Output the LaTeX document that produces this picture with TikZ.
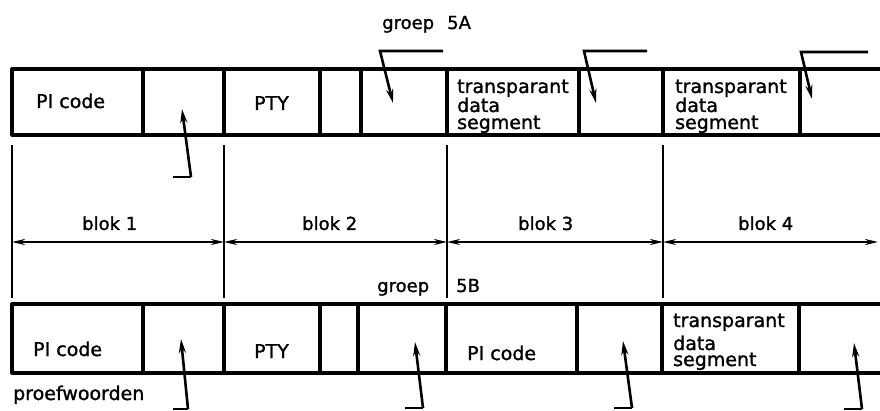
\documentclass[tikz,border=0pt]{standalone}
\usepackage{fontspec}
\setmainfont{DejaVu Sans}[FakeBold=1.3]
\usetikzlibrary{arrows.meta}
\begin{document}
\begin{tikzpicture}[x=1pt,y=-1pt,
  box/.style={line width=3.2pt,line cap=round,line join=round},
  ext/.style={line width=2.2pt},
  dim/.style={line width=2pt,{Stealth[length=13pt,width=6pt]}-{Stealth[length=13pt,width=6pt]}},
  ptr/.style={line width=2.6pt,-{Stealth[length=14pt,width=7pt]},line join=miter},
  foot/.style={line width=2.6pt},
  txt/.style={inner sep=0pt,anchor=base west,font=\fontsize{19}{19}\selectfont},
  lbl/.style={inner sep=0pt,anchor=base west,font=\fontsize{18}{18}\selectfont}]
\useasboundingbox (0,0) rectangle (880,411);

% ---------- top row ----------
\draw[box] (880,69) -- (12,69) -- (12,135) -- (880,135);
\foreach \x in {143,224,320,361,447,579,663,800}
  \draw[box] (\x,69) -- (\x,135);

% ---------- bottom row ----------
\draw[box] (880,304) -- (12,304) -- (12,373) -- (880,373);
\foreach \x in {143,224,320,358,446,577,662,799}
  \draw[box] (\x,304) -- (\x,373);

% ---------- extension lines ----------
\foreach \x in {12,224,447,663}
  \draw[ext] (\x,145) -- (\x,298);

% ---------- dimension lines ----------
\coordinate (d0) at (12,242);
\coordinate (d1) at (224,242);
\coordinate (d2) at (447,242);
\coordinate (d3) at (663,242);
\coordinate (d4) at (878,242);
\draw[dim] (d0) -- (d1);
\draw[dim] (d1) -- (d2);
\draw[dim] (d2) -- (d3);
\draw[dim] (d3) -- (d4);

\node[lbl] (b1) at (82,230) {blok 1};
\node[lbl] (b2) at (302,230) {blok 2};
\node[lbl] (b3) at (518,230) {blok 3};
\node[lbl] (b4) at (738,230) {blok 4};

% ---------- group labels ----------
\node[lbl] (g5a) at (382,29) {groep};
\node[lbl] (n5a) at (447,29) {5A};
\node[lbl] (g5b) at (377,292) {groep};
\node[lbl] (n5b) at (456,292) {5B};

% ---------- top row texts ----------
\node[txt] (t1) at (36,108) {PI code};
\node[txt] (t2) at (254,110) {PTY};
\node[txt] (t3a) at (457,93) {transparant};
\node[txt] (t3b) at (457,112) {data};
\node[txt] (t3c) at (457,129) {segment};
\node[txt] (t4a) at (675,93) {transparant};
\node[txt] (t4b) at (675,112) {data};
\node[txt] (t4c) at (675,129) {segment};

% ---------- bottom row texts ----------
\node[txt] (u1) at (33,356) {PI code};
\node[txt] (u2) at (254,358) {PTY};
\node[txt] (u3) at (467,360) {PI code};
\node[txt] (u4a) at (673,327) {transparant};
\node[txt] (u4b) at (673,350) {data};
\node[txt] (u4c) at (673,366) {segment};
\node[txt] (pw) at (13,400) {proefwoorden};

% ---------- pointers top row ----------
\coordinate (p1f) at (173,177);
\coordinate (p1b) at (191,177);
\coordinate (p1t) at (182,109);
\draw[foot] (p1f) -- (p1b);
\draw[ptr] (p1b) -- (p1t);

\coordinate (p2e) at (443,51);
\coordinate (p2k) at (380,51);
\coordinate (p2t) at (393,103);
\draw[ptr] (p2e) -- (p2k) -- (p2t);

\coordinate (p3e) at (647,51);
\coordinate (p3k) at (584,51);
\coordinate (p3t) at (596,103);
\draw[ptr] (p3e) -- (p3k) -- (p3t);

\coordinate (p4e) at (868,52);
\coordinate (p4k) at (801,52);
\coordinate (p4t) at (812,99);
\draw[ptr] (p4e) -- (p4k) -- (p4t);

% ---------- pointers bottom row ----------
\coordinate (q1f) at (173,409);
\coordinate (q1b) at (188,409);
\coordinate (q1t) at (181,339);
\draw[foot] (q1f) -- (q1b);
\draw[ptr] (q1b) -- (q1t);

\coordinate (q2f) at (405,408);
\coordinate (q2b) at (423,408);
\coordinate (q2t) at (415,342);
\draw[foot] (q2f) -- (q2b);
\draw[ptr] (q2b) -- (q2t);

\coordinate (q3f) at (614,408);
\coordinate (q3b) at (632,408);
\coordinate (q3t) at (623,341);
\draw[foot] (q3f) -- (q3b);
\draw[ptr] (q3b) -- (q3t);

\coordinate (q4f) at (844,409);
\coordinate (q4b) at (862,409);
\coordinate (q4t) at (854,343);
\draw[foot] (q4f) -- (q4b);
\draw[ptr] (q4b) -- (q4t);
\end{tikzpicture}
\end{document}
